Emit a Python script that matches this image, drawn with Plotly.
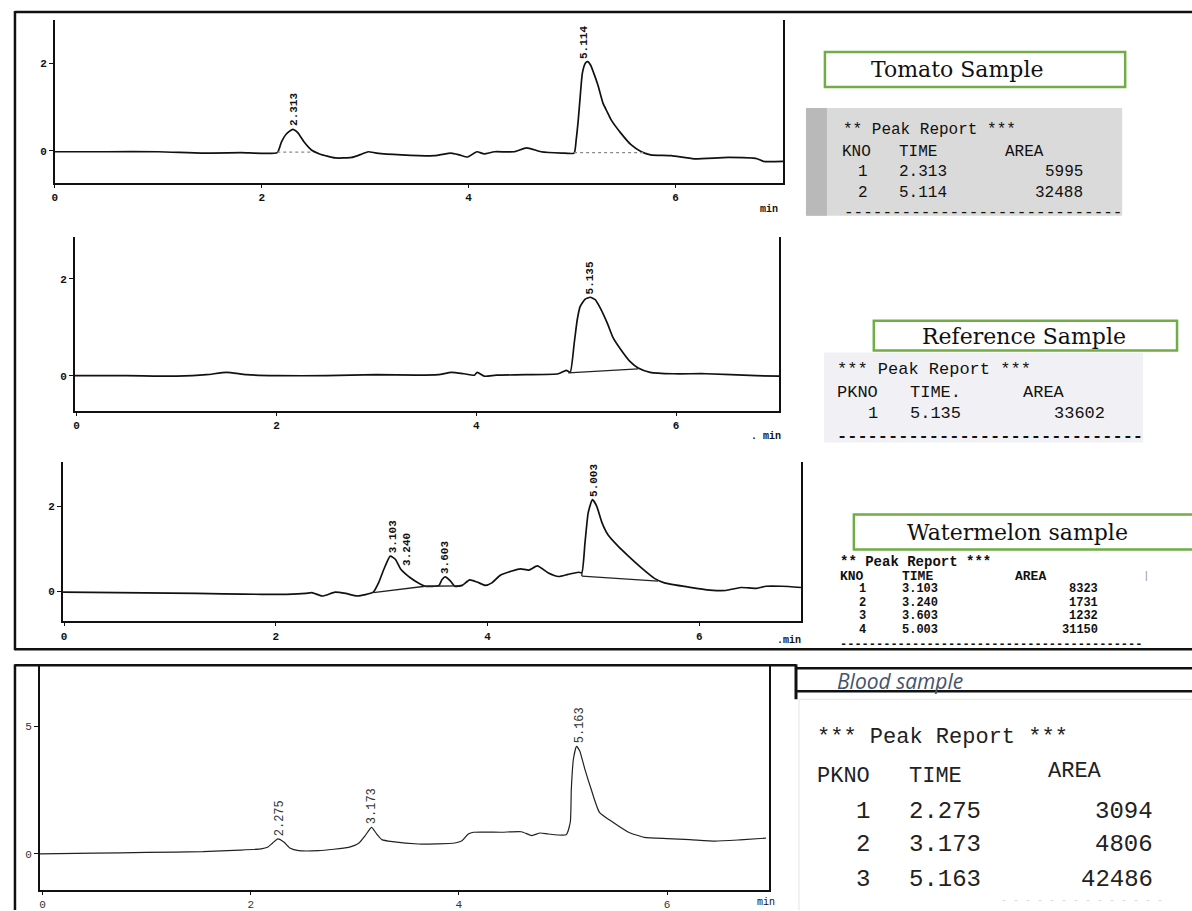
import plotly.graph_objects as go

W, H = 1192, 911

# ---------------- chromatogram data (time in min, signal) ----------------
tomato_t = [0.00, 0.50, 1.00, 1.42, 1.80, 2.15, 2.19, 2.24, 2.30, 2.35, 2.41, 2.48, 2.56, 2.71, 2.87,
            2.97, 3.03, 3.11, 3.35, 3.67, 3.83, 3.91, 3.99, 4.08, 4.15, 4.25, 4.44, 4.56, 4.70, 4.90,
            5.02, 5.04, 5.06, 5.08, 5.10, 5.13, 5.15, 5.18, 5.21, 5.25, 5.30, 5.34, 5.38, 5.47, 5.57,
            5.67, 5.76, 5.96, 6.18, 6.51, 6.79, 6.85, 7.04]
tomato_y = [-0.02, -0.02, -0.02, -0.05, -0.04, -0.04, 0.20, 0.39, 0.49, 0.41, 0.20, 0.02, -0.07, -0.16, -0.15,
            -0.07, -0.02, -0.05, -0.09, -0.11, -0.05, -0.09, -0.14, -0.02, -0.07, -0.02, -0.02, 0.07, -0.02, -0.05,
            -0.05, 0.25, 0.70, 1.27, 1.77, 2.00, 2.03, 1.95, 1.77, 1.50, 1.08, 0.89, 0.70, 0.41, 0.14,
            -0.02, -0.09, -0.11, -0.18, -0.15, -0.18, -0.24, -0.24]
tomato_base_t = [[2.15, 2.48], [5.02, 5.72]]
tomato_base_y = [[-0.03, -0.03], [-0.04, -0.04]]

ref_t = [-0.02, 0.50, 1.00, 1.30, 1.50, 1.70, 2.00, 2.50, 3.00, 3.40, 3.62, 3.75, 3.88, 3.98, 4.01,
         4.08, 4.20, 4.50, 4.82, 4.90, 4.94, 4.98, 5.01, 5.04, 5.09, 5.14, 5.19, 5.24, 5.31, 5.37,
         5.46, 5.54, 5.62, 5.74, 5.97, 6.30, 6.80, 7.03]
ref_y = [0.00, 0.00, -0.01, 0.02, 0.07, 0.02, 0.00, 0.00, 0.02, 0.01, 0.02, 0.07, 0.04, 0.01, 0.07,
         -0.01, 0.01, 0.02, 0.04, 0.11, 0.07, 0.67, 1.15, 1.43, 1.58, 1.62, 1.57, 1.40, 1.09, 0.78,
         0.50, 0.29, 0.16, 0.07, 0.04, 0.04, 0.00, -0.01]
ref_base_t = [[4.92, 5.62]]
ref_base_y = [[0.06, 0.14]]

wm_t = [-0.01, 0.50, 1.00, 1.50, 1.87, 2.10, 2.28, 2.34, 2.44, 2.56, 2.66, 2.77, 2.92, 2.97, 3.02,
        3.08, 3.13, 3.18, 3.23, 3.27, 3.33, 3.41, 3.54, 3.57, 3.60, 3.65, 3.69, 3.76, 3.83, 3.90,
        3.98, 4.04, 4.12, 4.23, 4.31, 4.39, 4.47, 4.57, 4.67, 4.76, 4.86, 4.89, 4.92, 4.95, 4.99,
        5.03, 5.08, 5.14, 5.23, 5.33, 5.45, 5.58, 5.67, 5.90, 6.10, 6.25, 6.39, 6.54, 6.63, 6.78, 6.96]
wm_y = [-0.02, -0.03, -0.04, -0.06, -0.07, -0.07, -0.05, -0.03, -0.11, -0.02, -0.05, -0.11, -0.02, 0.20, 0.52,
        0.83, 0.75, 0.52, 0.40, 0.32, 0.22, 0.12, 0.14, 0.28, 0.34, 0.24, 0.12, 0.14, 0.27, 0.22,
        0.14, 0.20, 0.38, 0.48, 0.53, 0.50, 0.60, 0.44, 0.35, 0.40, 0.45, 0.44, 1.15, 1.85, 2.16,
        2.01, 1.62, 1.32, 1.07, 0.83, 0.56, 0.30, 0.20, 0.10, 0.03, 0.02, 0.09, 0.07, 0.12, 0.12, 0.09]
wm_base_t = [[2.92, 3.41], [3.41, 3.74], [4.89, 5.61], [4.89, 4.89]]
wm_base_y = [[-0.03, 0.12], [0.12, 0.13], [0.36, 0.24], [0.44, 0.36]]

blood_t = [-0.03, 0.50, 1.00, 1.54, 1.90, 2.10, 2.16, 2.21, 2.26, 2.32, 2.38, 2.46, 2.65, 2.94, 3.04,
           3.10, 3.16, 3.21, 3.26, 3.36, 3.61, 3.96, 4.03, 4.09, 4.14, 4.41, 4.60, 4.70, 4.78, 4.86,
           5.03, 5.07, 5.08, 5.10, 5.13, 5.16, 5.21, 5.27, 5.35, 5.48, 5.63, 5.78, 6.00, 6.22, 6.46,
           6.70, 6.95]
blood_y = [0.00, 0.03, 0.06, 0.09, 0.15, 0.20, 0.26, 0.43, 0.59, 0.46, 0.22, 0.13, 0.13, 0.26, 0.43,
           0.72, 1.04, 0.78, 0.56, 0.48, 0.39, 0.43, 0.52, 0.78, 0.85, 0.85, 0.87, 0.72, 0.82, 0.78,
           0.75, 1.24, 2.54, 3.71, 4.21, 4.04, 3.32, 2.54, 1.63, 1.24, 0.85, 0.65, 0.60, 0.56, 0.50,
           0.55, 0.62]

# ---------------- peak reports ----------------
tomato_pk = [1, 2]
tomato_time = [2.313, 5.114]
tomato_area = [5995, 32488]

ref_pk = [1]
ref_time = [5.135]
ref_area = [33602]

wm_pk = [1, 2, 3, 4]
wm_time = [3.103, 3.240, 3.603, 5.003]
wm_area = [8323, 1731, 1232, 31150]

blood_pk = [1, 2, 3]
blood_time = [2.275, 3.173, 5.163]
blood_area = [3094, 4806, 42486]

x_ticks = [0, 2, 4, 6]

MONO = "Liberation Mono, DejaVu Sans Mono, monospace"
SERIF = "DejaVu Serif, Liberation Serif, serif"

fig = go.Figure()


def fx(p):
    return p / W


def fy(p):
    return 1 - p / H


panels = [
    dict(t=tomato_t, y=tomato_y, bt=tomato_base_t, by=tomato_base_y, bdash="dot", bcol="#8a8a8a",
         xd=(52, 782), yd=(20, 183), xr=[0, 7.04], yr=[-0.727, 2.98], yt=[0, 2],
         peaks=tomato_time, lw=1.7, col="#111", tf=dict(family=MONO, size=11, color="#111", weight="bold"),
         minpos=(768, 210), mintxt="min"),
    dict(t=ref_t, y=ref_y, bt=ref_base_t, by=ref_base_y, bdash="solid", bcol="#222",
         xd=(72, 778), yd=(237, 411), xr=[-0.018, 7.03], yr=[-0.72, 2.87], yt=[0, 2],
         peaks=ref_time, lw=1.7, col="#111", tf=dict(family=MONO, size=11, color="#111", weight="bold"),
         minpos=(765, 437), mintxt=". min"),
    dict(t=wm_t, y=wm_y, bt=wm_base_t, by=wm_base_y, bdash="solid", bcol="#222",
         xd=(60, 800), yd=(463, 622), xr=[-0.012, 6.96], yr=[-0.706, 3.035], yt=[0, 2],
         peaks=wm_time, lw=1.7, col="#111", tf=dict(family=MONO, size=11, color="#111", weight="bold"),
         minpos=(788, 641), mintxt=".min"),
    dict(t=blood_t, y=blood_y, bt=[], by=[], bdash="solid", bcol="#222",
         xd=(37, 768), yd=(667, 891), xr=[-0.026, 6.98], yr=[-1.41, 7.34], yt=[0, 5],
         peaks=blood_time, lw=1.2, col="#222", tf=dict(family=MONO, size=11, color="#333"),
         minpos=(765, 903), mintxt="min"),
]

layout_axes = {}
for i, p in enumerate(panels, start=1):
    xa = "x" if i == 1 else f"x{i}"
    ya = "y" if i == 1 else f"y{i}"
    fig.add_trace(go.Scatter(x=p["t"], y=p["y"], mode="lines", xaxis=xa, yaxis=ya,
                             line=dict(color=p["col"], width=p["lw"], shape="spline", smoothing=0.5),
                             showlegend=False, hoverinfo="skip"))
    for bt, by in zip(p["bt"], p["by"]):
        fig.add_trace(go.Scatter(x=bt, y=by, mode="lines", xaxis=xa, yaxis=ya,
                                 line=dict(color=p["bcol"], width=1.3, dash=p["bdash"]),
                                 showlegend=False, hoverinfo="skip"))
    ax_key = "xaxis" if i == 1 else f"xaxis{i}"
    ay_key = "yaxis" if i == 1 else f"yaxis{i}"
    layout_axes[ax_key] = dict(domain=[fx(p["xd"][0]), fx(p["xd"][1])], range=p["xr"], anchor=ya,
                               showline=True, linecolor="#111", linewidth=2.2, ticks="outside",
                               ticklen=3, tickcolor="#111", tickvals=x_ticks,
                               ticktext=[str(v) for v in x_ticks], tickfont=p["tf"],
                               showgrid=False, zeroline=False, fixedrange=True)
    layout_axes[ay_key] = dict(domain=[fy(p["yd"][1]), fy(p["yd"][0])], range=p["yr"], anchor=xa,
                               showline=True, mirror=True, linecolor="#111", linewidth=1.6,
                               ticks="outside", ticklen=4, tickcolor="#111", tickvals=p["yt"],
                               ticktext=[str(v) for v in p["yt"]], tickfont=p["tf"],
                               showgrid=False, zeroline=False, fixedrange=True)
    # rotated peak labels at each reported retention time
    for pt in p["peaks"]:
        near = [yy for tt, yy in zip(p["t"], p["y"]) if abs(tt - pt) <= 0.09]
        apex = max(near)
        fig.add_annotation(x=pt, y=apex, xref=xa, yref=ya, text=f"{pt:.3f}", textangle=-90,
                           showarrow=False, xanchor="center", yanchor="bottom", yshift=1,
                           font=dict(family=MONO, size=11 if i < 4 else 12,
                                     color="#111" if i < 4 else "#333",
                                     weight="bold" if i < 4 else "normal"))
    fig.add_annotation(x=fx(p["minpos"][0]), y=fy(p["minpos"][1]), xref="paper", yref="paper",
                       text=p["mintxt"], showarrow=False, xanchor="center", yanchor="middle",
                       font=dict(family=MONO, size=10, color="#111",
                                 weight="bold" if i < 4 else "normal"))

fig.update_layout(**layout_axes)


# ---------------- helpers for the report side ----------------
def text(x, y, s, size, family=MONO, anchor="left", color="#111", weight="normal", style="normal"):
    fig.add_annotation(x=fx(x), y=fy(y), xref="paper", yref="paper", text=s, showarrow=False,
                       xanchor=anchor, yanchor="middle", borderpad=0,
                       font=dict(size=size, family=family, color=color, weight=weight, style=style))


def line(x0, y0, x1, y1, color="#111", width=2.5):
    fig.add_shape(type="line", xref="paper", yref="paper", x0=fx(x0), y0=fy(y0), x1=fx(x1), y1=fy(y1),
                  line=dict(color=color, width=width))


def rect(x0, y0, x1, y1, fill=None, color=None, width=0, layer="below"):
    fig.add_shape(type="rect", xref="paper", yref="paper", x0=fx(x0), y0=fy(y0), x1=fx(x1), y1=fy(y1),
                  fillcolor=fill if fill else "rgba(0,0,0,0)",
                  line=dict(color=color if color else "rgba(0,0,0,0)", width=width), layer=layer)


# outer frames
line(12, 12, 1192, 12)
line(12, 11, 12, 651)
line(12, 650, 1192, 650)
line(12, 666, 795, 666)
line(12, 665, 12, 911)
line(795, 665, 795, 700, width=3)
line(795, 669, 1192, 669)
line(795, 692, 1192, 692)
line(798, 700, 1192, 700, color="#e4e4e4", width=1)
line(798, 700, 798, 911, color="#e4e4e4", width=1)

# sample title boxes
GREEN = "#70ad47"
rect(824, 52, 1125, 87, color=GREEN, width=2.5, layer="above")
text(956, 70, "Tomato Sample", 22, family=SERIF, anchor="center", color="#111")
rect(873, 321, 1177, 351, color=GREEN, width=2.5, layer="above")
text(1024, 337, "Reference Sample", 22, family=SERIF, anchor="center", color="#111")
rect(853, 515, 1196, 550, color=GREEN, width=2.5, layer="above")
text(1017, 533, "Watermelon sample", 22, family=SERIF, anchor="center", color="#111")
text(899, 682, "Blood sample", 21, family="Open Sans, Lato, sans-serif", anchor="center",
     color="#44546a", style="italic")

# ---- Tomato peak report ----
rect(805, 108, 1122, 216, fill="#dadada")
rect(805, 108, 826, 216, fill="#b9b9b9")
fs = 16
text(841, 130, "** Peak Report ***", fs)
text(840, 152, "KNO", fs)
text(897, 152, "TIME", fs)
text(1004, 152, "AREA", fs)
for k, (n, tm, ar) in enumerate(zip(tomato_pk, tomato_time, tomato_area)):
    yy = 172 + k * 21
    text(862, yy, str(n), fs, anchor="center")
    text(897, yy, f"{tm:.3f}", fs)
    text(1084, yy, str(ar), fs, anchor="right")
text(842, 213, "-" * 29, fs)

# ---- Reference peak report ----
rect(823, 353, 1143, 443, fill="#f1f1f5")
fs = 17
text(835, 370, "*** Peak Report ***", fs)
text(835, 393, "PKNO", fs)
text(908, 393, "TIME.", fs)
text(1022, 393, "AREA", fs)
for k, (n, tm, ar) in enumerate(zip(ref_pk, ref_time, ref_area)):
    yy = 414 + k * 21
    text(872, yy, str(n), fs, anchor="center")
    text(908, yy, f"{tm:.3f}", fs)
    text(1106, yy, str(ar), fs, anchor="right")
text(835, 437, "-" * 30, fs, weight="bold")

# ---- Watermelon peak report ----
fs = 12
text(838, 563, "** Peak Report ***", 14, weight="bold")
text(838, 577, "KNO", 13, weight="bold")
text(900, 577, "TIME", 13, weight="bold")
text(1014, 577, "AREA", 13, weight="bold")
text(1142, 577, "|", 11, color="#999")
for k, (n, tm, ar) in enumerate(zip(wm_pk, wm_time, wm_area)):
    yy = 590 + k * 13.5
    text(862, yy, str(n), fs, anchor="center", weight="bold")
    text(900, yy, f"{tm:.3f}", fs, weight="bold")
    text(1099, yy, str(ar), fs, anchor="right", weight="bold")
text(838, 646, "-" * 42, 12, weight="bold")

# ---- Blood peak report ----
fs = 22
BC = "#222"
text(815, 738, "*** Peak Report ***", fs, color=BC)
text(815, 777, "PKNO", fs, color=BC)
text(907, 777, "TIME", fs, color=BC)
text(1047, 772, "AREA", fs, color=BC)
for k, (n, tm, ar) in enumerate(zip(blood_pk, blood_time, blood_area)):
    yy = [812, 845, 880][k]
    text(862, yy, str(n), fs + 2, anchor="center", color=BC)
    text(907, yy, f"{tm:.3f}", fs + 2, color=BC)
    text(1154, yy, str(ar), fs + 2, anchor="right", color=BC)
text(1000, 901, "- " * 14, 10, color="#d8d8d8")

fig.update_layout(width=W, height=H, margin=dict(l=0, r=0, t=0, b=0),
                  paper_bgcolor="white", plot_bgcolor="rgba(0,0,0,0)", showlegend=False)

fig.write_html("out.html", config={"displayModeBar": False},
               post_script="document.body.style.margin='0px';document.body.style.padding='0px';"
                           "document.body.style.overflow='hidden';")
